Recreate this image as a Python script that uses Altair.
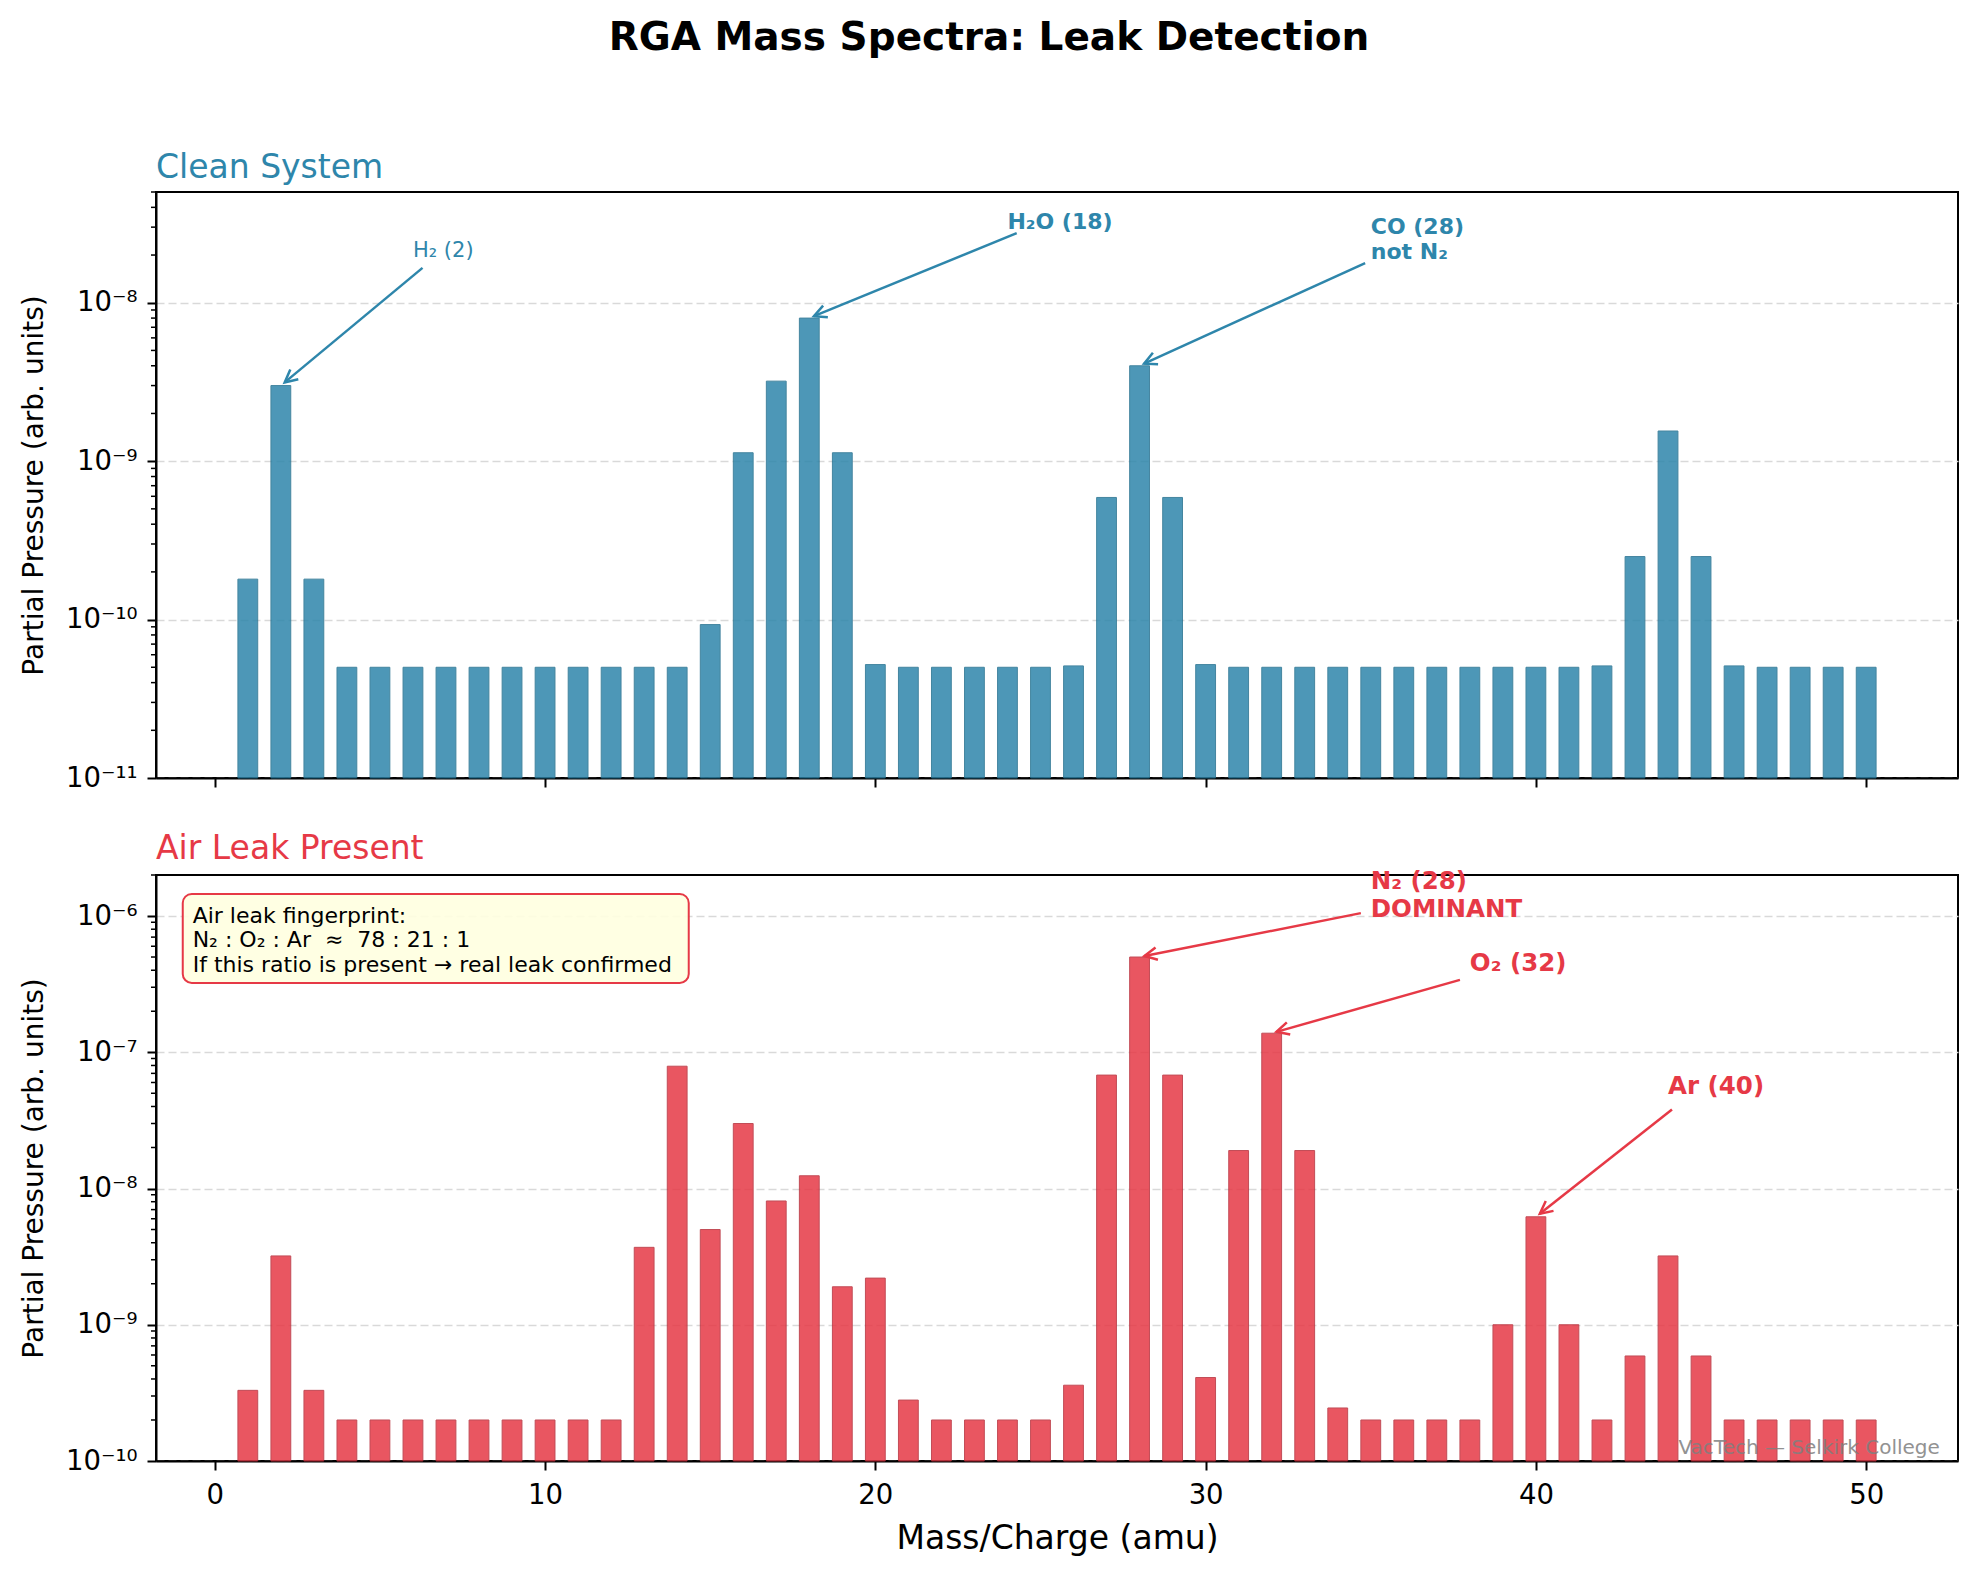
import math
import altair as alt
import pandas as pd

# ---------------- data ----------------
masses = list(range(1, 51))

clean_pressure = [
    1.8e-10, 3.0e-9, 1.8e-10, 5.0e-11, 5.0e-11, 5.0e-11, 5.0e-11, 5.0e-11, 5.0e-11, 5.0e-11,
    5.0e-11, 5.0e-11, 5.0e-11, 5.0e-11, 9.3e-11, 1.13e-9, 3.2e-9, 8.0e-9, 1.13e-9, 5.2e-11,
    5.0e-11, 5.0e-11, 5.0e-11, 5.0e-11, 5.0e-11, 5.1e-11, 5.9e-10, 4.0e-9, 5.9e-10, 5.2e-11,
    5.0e-11, 5.0e-11, 5.0e-11, 5.0e-11, 5.0e-11, 5.0e-11, 5.0e-11, 5.0e-11, 5.0e-11, 5.0e-11,
    5.0e-11, 5.1e-11, 2.5e-10, 1.55e-9, 2.5e-10, 5.1e-11, 5.0e-11, 5.0e-11, 5.0e-11, 5.0e-11,
]

leak_pressure = [
    3.3e-10, 3.2e-9, 3.3e-10, 2.0e-10, 2.0e-10, 2.0e-10, 2.0e-10, 2.0e-10, 2.0e-10, 2.0e-10,
    2.0e-10, 2.0e-10, 3.7e-9, 7.9e-8, 5.0e-9, 3.0e-8, 8.1e-9, 1.24e-8, 1.9e-9, 2.2e-9,
    2.8e-10, 2.0e-10, 2.0e-10, 2.0e-10, 2.0e-10, 3.6e-10, 6.8e-8, 5.0e-7, 6.8e-8, 4.1e-10,
    1.9e-8, 1.38e-7, 1.9e-8, 2.45e-10, 2.0e-10, 2.0e-10, 2.0e-10, 2.0e-10, 1.0e-9, 6.2e-9,
    1.0e-9, 2.0e-10, 5.9e-10, 3.2e-9, 5.9e-10, 2.0e-10, 2.0e-10, 2.0e-10, 2.0e-10, 2.0e-10,
]

x_ticks = [0, 10, 20, 30, 40, 50]
top_y_ticks = [1e-11, 1e-10, 1e-9, 1e-8]
bottom_y_ticks = [1e-10, 1e-9, 1e-8, 1e-7, 1e-6]
tick_label_text = {-11: "10⁻¹¹", -10: "10⁻¹⁰", -9: "10⁻⁹", -8: "10⁻⁸", -7: "10⁻⁷", -6: "10⁻⁶"}

# annotations (label, text x, first-line baseline y, arrow tail x, tail y, peak mass)
top_annot_labels = ["H₂ (2)", "H₂O (18)", "CO (28)\nnot N₂"]
top_annot_text_x = [6.0, 24.0, 35.0]
top_annot_text_y = [1.93e-8, 2.9e-8, 2.7e-8]
top_annot_tail_x = [6.29, 24.28, 34.83]
top_annot_tail_y = [1.66e-8, 2.75e-8, 1.78e-8]
top_annot_mass = [2, 18, 28]

bot_annot_labels = ["N₂ (28)\nDOMINANT", "O₂ (32)", "Ar (40)"]
bot_annot_text_x = [35.0, 38.0, 44.0]
bot_annot_text_y = [1.58e-6, 3.95e-7, 4.95e-8]
bot_annot_tail_x = [34.7, 37.7, 44.12]
bot_annot_tail_y = [1.05e-6, 3.4e-7, 3.8e-8]
bot_annot_mass = [28, 32, 40]

box_lines = ("Air leak fingerprint:\nN₂ : O₂ : Ar \u00a0≈\u00a0 78 : 21 : 1\n"
             "If this ratio is present → real leak confirmed")
watermark = "VacTech — Selkirk College"

# ---------------- layout / style ----------------
FONT = "DejaVu Sans"
W, H = 1802, 586
XDOM = [-1.78, 52.78]
TOP_YDOM = [1e-11, 5e-8]
BOT_YDOM = [1e-10, 2e-6]
BLUE = "#2E86AB"
BLUE_EDGE = "#24708f"
RED = "#E63946"
RED_EDGE = "#b82e3a"


def to_px(x, y, ydom):
    X = (x - XDOM[0]) / (XDOM[1] - XDOM[0]) * W
    l0, l1 = math.log10(ydom[0]), math.log10(ydom[1])
    Y = H - (math.log10(y) - l0) / (l1 - l0) * H
    return X, Y


def from_px(X, Y, ydom):
    l0, l1 = math.log10(ydom[0]), math.log10(ydom[1])
    x = XDOM[0] + X / W * (XDOM[1] - XDOM[0])
    y = 10 ** (l0 + (H - Y) / H * (l1 - l0))
    return x, y


def arrow_table(tail_x, tail_y, mass_list, values, ydom, shrink=5):
    rows = []
    for tx, ty, m in zip(tail_x, tail_y, mass_list):
        hv = values[masses.index(m)]
        X0, Y0 = to_px(tx, ty, ydom)
        X1, Y1 = to_px(m, hv, ydom)
        dx, dy = X1 - X0, Y1 - Y0
        L = math.hypot(dx, dy)
        X1s, Y1s = X1 - dx / L * shrink, Y1 - dy / L * shrink
        hx, hy = from_px(X1s, Y1s, ydom)
        ang = math.degrees(math.atan2(dy, dx)) % 360
        rows.append({"tx": tx, "ty": ty, "hx": hx, "hy": hy, "ang": ang})
    return pd.DataFrame(rows)


def minor_values(ydom):
    vals = []
    e0 = int(math.floor(math.log10(ydom[0])))
    e1 = int(math.ceil(math.log10(ydom[1])))
    for e in range(e0, e1 + 1):
        for m in range(2, 10):
            v = m * 10.0 ** e
            if ydom[0] < v <= ydom[1] * 1.0001:
                vals.append(v)
    return pd.DataFrame({"v": vals})


label_expr = " : ".join(
    f"round(log(datum.value)/LN10) == {e} ? '{t}'" for e, t in tick_label_text.items()
) + " : ''"

xscale = alt.Scale(domain=XDOM, nice=False, zero=False)


def y_axis(values):
    return alt.Axis(
        values=values, labelExpr=label_expr, grid=True, gridDash=[8, 4], gridColor="#d9d9d9",
        gridWidth=1.5, tickSize=9, tickWidth=2, labelFontSize=27.5, labelPadding=10,
        title="Partial Pressure (arb. units)", titleFontSize=28, titleFontWeight="normal",
        titleX=-122, titleBaseline="middle", titleFont=FONT, labelFont=FONT,
        domainColor="black", domainWidth=2, labelColor="black", titleColor="black",
        tickColor="black",
    )


def x_axis(top):
    if top:
        return alt.Axis(values=x_ticks, labels=False, title=None, grid=False, tickSize=9,
                        tickWidth=2, domainColor="black", domainWidth=2, tickColor="black")
    return alt.Axis(values=x_ticks, grid=False, tickSize=9, tickWidth=2, labelFontSize=27.5,
                    labelPadding=11, labelFont=FONT, labelColor="black", tickColor="black",
                    title="Mass/Charge (amu)", titleFontSize=33, titleFontWeight="normal",
                    titleFont=FONT, titleColor="black", titlePadding=14,
                    domainColor="black", domainWidth=2)


def panel(values, ydom, yticks, color, edge, arrow_df, ann_specs, top, extra_layers):
    yscale = alt.Scale(type="log", domain=ydom, nice=False)
    xax = x_axis(top)
    yax = y_axis(yticks)

    def X(field):
        return alt.X(field, scale=xscale, axis=xax)

    def Y(field):
        return alt.Y(field, scale=yscale, axis=yax)

    df = pd.DataFrame({"mass": masses, "pressure": values})
    bars = alt.Chart(df).transform_calculate(
        x0="datum.mass - 0.3", x1="datum.mass + 0.3"
    ).mark_bar(color=color, opacity=0.85, stroke=edge, strokeWidth=1).encode(
        x=X("x0:Q"),
        x2="x1:Q",
        y=Y("pressure:Q"),
        y2=alt.datum(ydom[0]),
    )
    minor = alt.Chart(minor_values(ydom)).mark_rule(color="black", strokeWidth=1.5).encode(
        y=Y("v:Q"),
        x=alt.value(0), x2=alt.value(-5),
    )
    lines = alt.Chart(arrow_df).mark_rule(color=color, strokeWidth=2.5).encode(
        x=X("tx:Q"), y=Y("ty:Q"), x2="hx:Q", y2="hy:Q",
    )
    heads = alt.Chart(arrow_df).mark_point(
        shape="M -1 -0.5 L 0 0 L -1 0.5", filled=False, size=625, strokeWidth=2.5,
        color=color, opacity=1,
    ).encode(
        x=X("hx:Q"), y=Y("hy:Q"),
        angle=alt.Angle("ang:Q", scale=None),
    )
    layers = [bars, minor, lines, heads]
    for d, size, weight, lh in ann_specs:
        layers.append(
            alt.Chart(d).mark_text(
                align="left", baseline="alphabetic", font=FONT, fontSize=size,
                fontWeight=weight, color=color, lineBreak="\n", lineHeight=lh,
            ).encode(x=X("x:Q"), y=Y("y:Q"), text="label:N")
        )
    for mk in extra_layers:
        layers.append(mk(X, Y))
    return alt.layer(*layers)


top_arrows = arrow_table(top_annot_tail_x, top_annot_tail_y, top_annot_mass, clean_pressure, TOP_YDOM)
bot_arrows = arrow_table(bot_annot_tail_x, bot_annot_tail_y, bot_annot_mass, leak_pressure, BOT_YDOM)

top_ann = pd.DataFrame({"label": top_annot_labels, "x": top_annot_text_x, "y": top_annot_text_y})
bot_ann = pd.DataFrame({"label": bot_annot_labels, "x": bot_annot_text_x, "y": bot_annot_text_y})

top_texts = [
    (top_ann.iloc[[0]], 21, "normal", 24),
    (top_ann.iloc[[1, 2]], 22, "bold", 24.5),
]
bot_texts = [(bot_ann, 24.5, "bold", 28)]


def box_layer(X, Y):
    d = pd.DataFrame({"x": [-0.97], "x2": [14.35], "y": [1.45e-6], "y2": [3.23e-7]})
    return alt.Chart(d).mark_rect(
        fill="#FFFFE0", fillOpacity=0.9, stroke=RED, strokeWidth=2, cornerRadius=9
    ).encode(x=X("x:Q"), x2="x2:Q", y=Y("y:Q"), y2="y2:Q")


def box_text_layer(X, Y):
    d = pd.DataFrame({"x": [-0.67], "y": [8.95e-7], "label": [box_lines]})
    return alt.Chart(d).mark_text(
        align="left", baseline="alphabetic", font=FONT, fontSize=22, color="black",
        lineBreak="\n", lineHeight=24.5,
    ).encode(x=X("x:Q"), y=Y("y:Q"), text="label:N")


def watermark_layer(X, Y):
    d = pd.DataFrame({"x": [52.23], "y": [1.135e-10], "label": [watermark]})
    return alt.Chart(d).mark_text(
        align="right", baseline="alphabetic", font=FONT, fontSize=20, color="#808080",
        opacity=0.85,
    ).encode(x=X("x:Q"), y=Y("y:Q"), text="label:N")


top_panel = panel(clean_pressure, TOP_YDOM, top_y_ticks, BLUE, BLUE_EDGE, top_arrows,
                  top_texts, True, []).properties(
    width=W, height=H,
    title=alt.TitleParams("Clean System", anchor="start", frame="group", color=BLUE,
                          fontSize=33, fontWeight="normal", font=FONT, baseline="alphabetic",
                          offset=-20),
)

bottom_panel = panel(leak_pressure, BOT_YDOM, bottom_y_ticks, RED, RED_EDGE, bot_arrows,
                     bot_texts, False, [box_layer, box_text_layer, watermark_layer]).properties(
    width=W, height=H,
    title=alt.TitleParams("Air Leak Present", anchor="start", frame="group", color=RED,
                          fontSize=33, fontWeight="normal", font=FONT, baseline="alphabetic",
                          offset=-23),
)

chart = alt.vconcat(top_panel, bottom_panel, spacing=38).properties(
    title=alt.TitleParams("RGA Mass Spectra: Leak Detection", anchor="middle", fontSize=39,
                          fontWeight="bold", font=FONT, color="black", baseline="alphabetic",
                          offset=62),
    padding={"left": 11, "top": 11, "right": 5, "bottom": 5},
    background="white",
).configure_view(stroke="black", strokeWidth=2)

chart.save("out.html", embed_options={"renderer": "svg", "actions": False})
